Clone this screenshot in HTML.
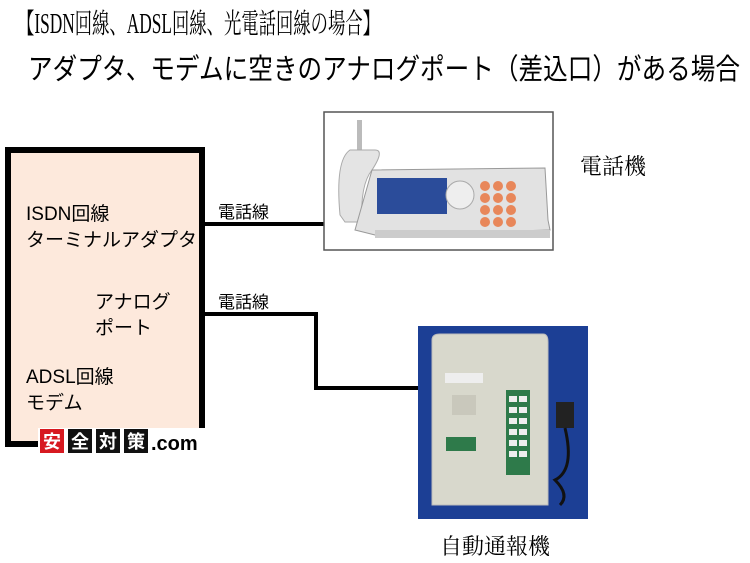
<!DOCTYPE html>
<html><head><meta charset="utf-8"><style>
html,body{margin:0;padding:0;background:#fff;width:750px;height:563px;overflow:hidden}
svg{display:block}
</style></head><body>
<svg width="750" height="563" viewBox="0 0 750 563" xmlns="http://www.w3.org/2000/svg" font-family="'Liberation Sans','Noto Sans CJK JP',sans-serif">
<text x="17" y="33" font-size="28" font-family="'Liberation Serif','Noto Serif CJK SC',serif" textLength="363" lengthAdjust="spacingAndGlyphs">【ISDN回線、ADSL回線、光電話回線の場合】</text>
<text x="28" y="79" font-size="29" textLength="712" lengthAdjust="spacingAndGlyphs">アダプタ、モデムに空きのアナログポート（差込口）がある場合</text>

<!-- box -->
<rect x="8" y="150" width="194" height="294" fill="#fde9dc" stroke="#000" stroke-width="6"/>
<g font-size="19">
<text x="26" y="220">ISDN回線</text>
<text x="26" y="246">ターミナルアダプタ</text>
<text x="95" y="308">アナログ</text>
<text x="95" y="334">ポート</text>
<text x="26" y="383">ADSL回線</text>
<text x="26" y="409">モデム</text>
</g>
<!-- logo -->
<rect x="38" y="428" width="172" height="26" fill="#fff"/>
<rect x="40" y="429" width="24" height="24" fill="#d71920"/>
<rect x="68" y="429" width="24" height="24" fill="#111"/>
<rect x="96" y="429" width="24" height="24" fill="#111"/>
<rect x="124" y="429" width="24" height="24" fill="#111"/>
<g fill="#fff" font-size="18" font-weight="bold">
<text x="43" y="448">安</text><text x="71" y="448">全</text><text x="99" y="448">対</text><text x="127" y="448">策</text></g>
<text x="151" y="450" font-size="20" font-weight="bold">.com</text>

<!-- lines -->
<text x="218" y="218" font-size="17">電話線</text>
<text x="218" y="308" font-size="17">電話線</text>
<path d="M205 224 H326" stroke="#000" stroke-width="4" fill="none"/>
<path d="M205 314 H316 V388 H420" stroke="#000" stroke-width="4" fill="none"/>

<!-- fax -->
<rect x="324" y="112" width="229" height="138" fill="#fff" stroke="#555" stroke-width="1.5"/>
<rect x="357" y="120" width="5" height="45" fill="#bbb"/>
<path d="M372 170 Q385 150 375 150 L350 150 Q335 160 340 215 L345 222 L362 222 Q360 185 372 170Z" fill="#e4e4e4" stroke="#aaa"/>
<path d="M372 170 L545 168 L548 220 L550 230 L375 235 L355 230Z" fill="#e2e2e2" stroke="#999"/>
<rect x="377" y="178" width="70" height="36" fill="#2b4c9a"/>
<circle cx="460" cy="195" r="14" fill="#eee" stroke="#aaa"/>
<g fill="#e8875a">
<circle cx="485" cy="186" r="5"/><circle cx="498" cy="186" r="5"/><circle cx="511" cy="186" r="5"/>
<circle cx="485" cy="198" r="5"/><circle cx="498" cy="198" r="5"/><circle cx="511" cy="198" r="5"/>
<circle cx="485" cy="210" r="5"/><circle cx="498" cy="210" r="5"/><circle cx="511" cy="210" r="5"/>
<circle cx="485" cy="222" r="5"/><circle cx="498" cy="222" r="5"/><circle cx="511" cy="222" r="5"/></g>
<rect x="375" y="230" width="175" height="8" fill="#ccc"/>
<text x="580" y="174" font-size="22" font-family="'Liberation Serif','Noto Serif CJK SC',serif">電話機</text>

<!-- autodialer -->
<rect x="418" y="326" width="170" height="193" fill="#1c3f95"/>
<path d="M432 340 Q432 334 440 334 L543 334 Q548 334 548 342 L548 505 L432 505Z" fill="#d8d8cc" stroke="#bbb"/>
<rect x="445" y="373" width="38" height="10" fill="#eee"/>
<rect x="452" y="395" width="24" height="20" fill="#c9c8bc"/>
<rect x="446" y="437" width="30" height="14" fill="#2e7a4a"/>
<rect x="506" y="390" width="24" height="85" fill="#2e7a4a"/>
<g fill="#eee"><rect x="509" y="396" width="8" height="6"/><rect x="519" y="396" width="8" height="6"/>
<rect x="509" y="407" width="8" height="6"/><rect x="519" y="407" width="8" height="6"/>
<rect x="509" y="418" width="8" height="6"/><rect x="519" y="418" width="8" height="6"/>
<rect x="509" y="429" width="8" height="6"/><rect x="519" y="429" width="8" height="6"/>
<rect x="509" y="440" width="8" height="6"/><rect x="519" y="440" width="8" height="6"/>
<rect x="509" y="451" width="8" height="6"/><rect x="519" y="451" width="8" height="6"/></g>
<rect x="556" y="402" width="18" height="26" fill="#222"/>
<path d="M565 428 Q575 470 555 480 Q570 495 560 505" stroke="#111" stroke-width="3" fill="none"/>
<text x="440" y="554" font-size="22" font-family="'Liberation Serif','Noto Serif CJK SC',serif">自動通報機</text>
</svg>
</body></html>
